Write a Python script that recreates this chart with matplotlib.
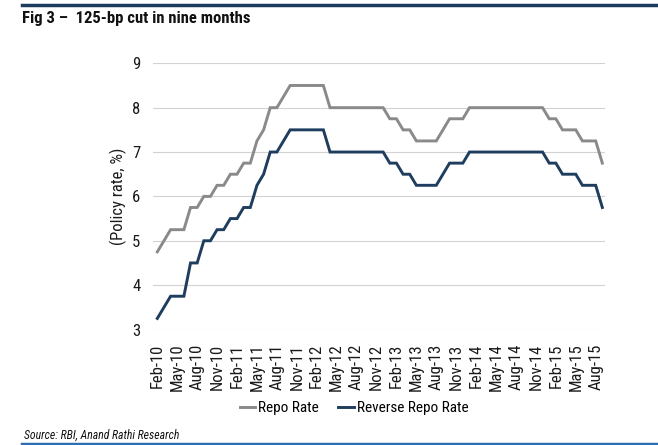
import matplotlib
matplotlib.use("Agg")
import matplotlib.pyplot as plt
from matplotlib.lines import Line2D

# ---- data (month-end policy rates, Feb-10 .. Sep-15) ----
months = ["Feb-10","Mar-10","Apr-10","May-10","Jun-10","Jul-10","Aug-10","Sep-10","Oct-10","Nov-10","Dec-10",
          "Jan-11","Feb-11","Mar-11","Apr-11","May-11","Jun-11","Jul-11","Aug-11","Sep-11","Oct-11","Nov-11","Dec-11",
          "Jan-12","Feb-12","Mar-12","Apr-12","May-12","Jun-12","Jul-12","Aug-12","Sep-12","Oct-12","Nov-12","Dec-12",
          "Jan-13","Feb-13","Mar-13","Apr-13","May-13","Jun-13","Jul-13","Aug-13","Sep-13","Oct-13","Nov-13","Dec-13",
          "Jan-14","Feb-14","Mar-14","Apr-14","May-14","Jun-14","Jul-14","Aug-14","Sep-14","Oct-14","Nov-14","Dec-14",
          "Jan-15","Feb-15","Mar-15","Apr-15","May-15","Jun-15","Jul-15","Aug-15","Sep-15"]
repo_rate = [4.75,5.00,5.25,5.25,5.25,5.75,5.75,6.00,6.00,6.25,6.25,
             6.50,6.50,6.75,6.75,7.25,7.50,8.00,8.00,8.25,8.50,8.50,8.50,
             8.50,8.50,8.50,8.00,8.00,8.00,8.00,8.00,8.00,8.00,8.00,8.00,
             7.75,7.75,7.50,7.50,7.25,7.25,7.25,7.25,7.50,7.75,7.75,7.75,
             8.00,8.00,8.00,8.00,8.00,8.00,8.00,8.00,8.00,8.00,8.00,8.00,
             7.75,7.75,7.50,7.50,7.50,7.25,7.25,7.25,6.75]
reverse_repo_rate = [3.25,3.50,3.75,3.75,3.75,4.50,4.50,5.00,5.00,5.25,5.25,
                     5.50,5.50,5.75,5.75,6.25,6.50,7.00,7.00,7.25,7.50,7.50,7.50,
                     7.50,7.50,7.50,7.00,7.00,7.00,7.00,7.00,7.00,7.00,7.00,7.00,
                     6.75,6.75,6.50,6.50,6.25,6.25,6.25,6.25,6.50,6.75,6.75,6.75,
                     7.00,7.00,7.00,7.00,7.00,7.00,7.00,7.00,7.00,7.00,7.00,7.00,
                     6.75,6.75,6.50,6.50,6.50,6.25,6.25,6.25,5.75]
y_ticks = [3, 4, 5, 6, 7, 8, 9]
series_names = ["Repo Rate", "Reverse Repo Rate"]

FONT = ["Roboto Condensed", "Liberation Sans", "DejaVu Sans"]
plt.rcParams["font.family"] = FONT

REPO_C = "#8a8a8a"
RREPO_C = "#1f3d5f"
TXT_C = "#1a1a1a"

fig = plt.figure(figsize=(6.58, 4.45), dpi=100)
ax = fig.add_axes([153/658, 1-329.5/445, (605-153)/658, (329.5-63.3)/445])

x = list(range(len(months)))
ax.plot(x, repo_rate, color=REPO_C, lw=2.1, solid_joinstyle="miter")
ax.plot(x, reverse_repo_rate, color=RREPO_C, lw=2.1, solid_joinstyle="miter")

ax.set_ylim(3, 9)
ax.set_xlim(-0.65, 67.4)
ax.set_yticks(y_ticks)
ax.set_yticklabels([str(v) for v in y_ticks], fontsize=12, color=TXT_C)
ax.set_xticks(x[::3])
ax.set_xticklabels(months[::3], rotation=90, fontsize=12, color=TXT_C)
ax.tick_params(length=0)
ax.tick_params(axis="y", pad=9)
ax.tick_params(axis="x", pad=10)
for s in ax.spines.values():
    s.set_visible(False)
ax.grid(axis="y", color="#d2d2d2", lw=0.8)
ax.set_axisbelow(True)
ax.set_ylabel("(Policy rate, %)", fontsize=12, color=TXT_C, labelpad=4)

handles = [Line2D([0], [0], color=REPO_C, lw=2.1), Line2D([0], [0], color=RREPO_C, lw=2.1)]
fig.legend(handles, series_names, loc="center", bbox_to_anchor=(0.538, 1-408/445), ncol=2,
           frameon=False, fontsize=11, handlelength=1.0, handletextpad=0.2, columnspacing=1.3)

# header / footer rules and text
fig.add_artist(Line2D([22/658, 1.0], [1-4.5/445, 1-4.5/445], color="#1b3a5c", lw=2.5))
fig.add_artist(Line2D([22/658, 1.0], [1-443.5/445, 1-443.5/445], color="#2f6fb0", lw=2.5))
fig.text(22/658, 1-19/445, "Fig 3 \u2013  125-bp cut in nine months", fontsize=12, fontweight="bold",
         va="center", ha="left", color="#111111")
fig.text(24/658, 1-435.5/445, "Source: RBI, Anand Rathi Research", fontsize=8.5, style="italic",
         va="center", ha="left", color="#111111")

fig.savefig("out.png", dpi=100)
